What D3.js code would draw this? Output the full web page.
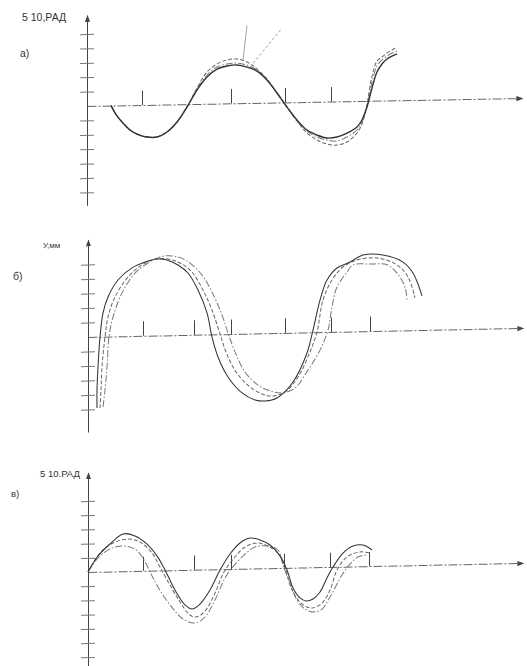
<!DOCTYPE html>
<html><head><meta charset="utf-8">
<script src="https://cdn.jsdelivr.net/npm/d3@7"></script>
<style>html,body{margin:0;padding:0;background:#fff;} svg{display:block;}</style>
</head><body><svg id="c" width="527" height="666"></svg>
<script>
// ---------- Panel а) (5·10 рад) ----------
const aX = [2.4,3.0,3.6,4.3,5.0,6,7,8,9,10,11,12,13,14,15,16,17,18,19,20,21,22,23,24,25,26,27,27.5,28,28.5,29,29.5,30,30.5,31];
const aSolid = [0,-0.73,-1.23,-1.72,-2.01,-2.23,-2.24,-1.91,-1.23,-0.20,0.97,1.86,2.40,2.60,2.66,2.50,2.21,1.58,0.66,-0.33,-1.24,-1.95,-2.31,-2.53,-2.47,-2.21,-1.80,-1.32,-0.43,0.89,1.99,2.54,2.88,3.08,3.22];
const aDashed = [0,-0.73,-1.23,-1.72,-2.01,-2.23,-2.24,-1.91,-1.23,-0.20,1.11,2.21,2.75,3.02,3.07,2.85,2.35,1.65,0.66,-0.33,-1.31,-2.16,-2.65,-2.95,-3.03,-2.83,-2.22,-1.60,-0.22,1.72,2.75,3.03,3.30,3.50,3.70];
const aDashDot = [0,-0.73,-1.23,-1.72,-2.01,-2.23,-2.24,-1.91,-1.23,-0.20,1.04,2.00,2.54,2.74,2.79,2.64,2.28,1.58,0.66,-0.33,-1.31,-2.02,-2.45,-2.67,-2.75,-2.48,-2.01,-1.46,-0.36,1.30,2.41,2.82,3.09,3.29,3.42];
const aTicksX = [5.5,14.4,19.8,24.4];
const aTicksY = [-6,-5,-4,-3,-2,-1,1,2,3,4,5];
const aLeaders = [[15.6,3.0,16.0,5.4],[16.6,2.75,19.5,5.15]];

// ---------- Panel б) (Y, мм) ----------
const bSolidX = [0.9,0.9,1.0,1.2,1.5,2.0,3.0,4.4,6.0,6.9,7.9,9.0,10.0,11.0,11.9,12.4,13.0,14.0,15.4,16.7,17.7,18.9,20.5,21.9,22.5,23.2,23.9,24.9,26.2,27.5,29.5,31.5,32.5,33.4];
const bSolidY = [-4.91,-3.67,-2.08,-0.02,1.63,2.73,3.89,4.70,5.15,5.28,5.20,4.84,4.27,3.08,1.49,-0.18,-1.57,-2.96,-4.08,-4.58,-4.67,-4.48,-3.40,-1.42,0.15,2.21,3.58,4.40,4.79,5.26,5.23,4.71,3.94,2.35];
const bDashedX = [1.2,1.3,1.4,1.7,2.0,2.7,4.0,5.4,6.7,8.0,9.2,10.4,11.5,12.4,13.2,13.8,14.8,16.2,17.4,18.4,19.7,21.0,22.2,22.9,23.5,24.4,25.5,26.9,28.9,30.9,32.0,32.7];
const bDashedY = [-4.92,-3.68,-2.09,-0.02,1.35,2.72,4.08,4.89,5.28,5.26,4.97,4.33,3.07,1.68,0.02,-1.23,-2.62,-3.68,-4.18,-4.34,-4.08,-3.06,-1.35,0.01,2.21,3.58,4.46,4.92,5.03,4.52,3.68,2.22];
const bDashDotX = [1.5,1.7,1.9,2.1,2.5,3.4,4.7,6.0,7.0,7.7,9.0,10.2,11.4,12.4,13.4,14.0,14.7,15.7,17.0,18.2,19.4,20.7,22.0,23.2,24.0,24.4,24.9,25.9,26.5,28.2,29.9,30.9,31.7,31.9];
const bDashDotY = [-4.85,-3.68,-2.10,-0.03,1.34,2.98,4.34,5.01,5.35,5.48,5.39,4.95,4.11,2.92,1.33,0.08,-1.24,-2.64,-3.56,-3.98,-4.14,-3.82,-2.60,-1.24,0.13,1.72,3.09,4.10,4.59,4.62,4.55,3.96,2.99,2.02];
const bTicksX = [5.5,10.6,14.3,19.7,24.3,28.2];
const bTicksY = [-5,-4,-3,-2,-1,1,2,3,4,5];

// ---------- Panel в) (5·10 рад) ----------
const cSolidX = [0,1.0,2.2,3.5,4.7,5.9,6.9,7.7,8.7,9.7,10.4,11.2,12.2,13.2,14.2,15.2,16.2,17.2,18.2,19.2,19.9,20.5,21.2,21.8,22.5,23.2,23.9,24.5,25.5,26.5,27.5,28.4];
const cSolidY = [0,1.11,1.94,2.63,2.47,1.88,1.03,0.03,-1.40,-2.46,-2.76,-2.42,-1.45,-0.06,1.06,1.82,2.15,2.00,1.63,0.85,-0.15,-1.43,-2.14,-2.36,-2.23,-1.75,-0.77,-0.01,0.96,1.44,1.49,1.13];
const cDashedX = [0,1.2,2.5,4.0,5.2,6.4,7.2,8.2,9.2,10.2,10.8,11.7,12.7,13.6,14.7,15.7,16.9,18.0,19.0,19.7,20.4,21.4,22.4,23.4,24.2,24.9,25.9,27.2,28.2];
const cDashedY = [0,1.32,2.00,2.26,2.03,1.25,0.24,-1.04,-2.25,-3.18,-3.33,-2.92,-1.67,-0.20,0.84,1.53,1.79,1.56,1.06,-0.01,-1.57,-2.57,-2.87,-2.53,-1.63,-0.23,0.68,1.01,0.92];
const cDashDotX = [0,1.0,2.2,3.4,4.7,5.6,6.2,7.0,8.2,9.5,10.7,11.7,12.7,13.7,14.4,15.4,16.7,18.0,19.0,19.5,20.2,20.9,21.7,22.5,23.4,24.2,25.4,26.2,27.0,27.8];
const cDashDotY = [0,0.97,1.59,1.78,1.55,0.77,-0.09,-1.16,-2.44,-3.45,-3.75,-3.34,-2.16,-0.62,0.07,0.83,1.51,1.56,1.27,0.20,-1.07,-2.28,-2.93,-3.15,-2.96,-2.12,-0.59,0.17,0.66,0.79];
const cTicksX = [5.5,10.6,14.3,19.6,24.2,28.1];
const cTicksY = [-6,-5,-4,-3,-2,-1,1,2,3,4,5];

// ---------- drawing ----------
const svg = d3.select("#c");
svg.append("rect").attr("width",527).attr("height",666).attr("fill","#fff");
const defs = svg.append("defs");
defs.append("marker").attr("id","arr").attr("viewBox","0 -4 8 8")
  .attr("refX",7).attr("refY",0).attr("markerWidth",7).attr("markerHeight",7)
  .attr("markerUnits","userSpaceOnUse").attr("orient","auto")
  .append("path").attr("d","M0,-3L8,0L0,3Z").attr("fill","#444");

const styles = {
  solid:   {stroke:"#333", dash:null},
  dashed:  {stroke:"#666", dash:"4,2"},
  dashdot: {stroke:"#777", dash:"7,2,1.5,2"}
};

function panel(cfg){
  const g = svg.append("g").attr("transform",`translate(${cfg.ox},${cfg.oy}) skewY(${cfg.skew})`);
  const x = d3.scaleLinear().domain([0,43.5]).range([0,435]);
  const y = d3.scaleLinear().domain([cfg.yMin,cfg.yMax]).range([-cfg.yMin*cfg.unit,-cfg.yMax*cfg.unit]);

  const xa = g.append("g").call(d3.axisBottom(x).tickValues(cfg.xTicks).tickSize(-cfg.unit).tickSizeOuter(0).tickFormat(""));
  xa.select(".domain").attr("stroke","#666").attr("stroke-width",1).attr("stroke-dasharray","9,2,2,2").attr("marker-end","url(#arr)");
  xa.selectAll(".tick line").attr("stroke","#444").attr("stroke-width",1);

  const ya = g.append("g").call(d3.axisLeft(y).tickValues(cfg.yTicks).tickSize(7).tickSizeOuter(0).tickFormat(""));
  ya.selectAll(".tick line").attr("x1",7).attr("stroke","#777").attr("stroke-width",1);
  ya.select(".domain").attr("stroke","#444").attr("stroke-width",1).attr("marker-end","url(#arr)");

  const line = d3.line().x(d=>x(d[0])).y(d=>y(d[1])).curve(d3.curveCatmullRom.alpha(0.5));
  cfg.series.forEach(s=>{
    const st = styles[s.style];
    g.append("path").datum(d3.zip(s.x,s.y)).attr("d",line)
      .attr("fill","none").attr("stroke",st.stroke)
      .attr("stroke-width", s.style==="solid" ? cfg.solidW : 1.0)
      .attr("stroke-dasharray",st.dash).attr("stroke-linejoin","round");
  });
  (cfg.leaders||[]).forEach((l,i)=>{
    g.append("line").attr("x1",x(l[0])).attr("y1",y(l[1])).attr("x2",x(l[2])).attr("y2",y(l[3]))
      .attr("stroke","#999").attr("stroke-width",0.9).attr("stroke-dasharray",i?"3,2":null);
  });
}

panel({ox:87, oy:106, skew:-1.05, unit:14.4, yMin:-6.9, yMax:6.3, xTicks:aTicksX, yTicks:aTicksY, solidW:1.4,
  series:[{x:aX,y:aDashed,style:"dashed"},{x:aX,y:aDashDot,style:"dashdot"},{x:aX,y:aSolid,style:"solid"}],
  leaders:aLeaders});
panel({ox:88, oy:337, skew:-1.2, unit:14.5, yMin:-6.55, yMax:6.7, xTicks:bTicksX, yTicks:bTicksY, solidW:1.05,
  series:[{x:bDashedX,y:bDashedY,style:"dashed"},{x:bDashDotX,y:bDashDotY,style:"dashdot"},{x:bSolidX,y:bSolidY,style:"solid"}]});
panel({ox:88, oy:572, skew:-1.2, unit:14.2, yMin:-6.8, yMax:7.0, xTicks:cTicksX, yTicks:cTicksY, solidW:1.05,
  series:[{x:cDashedX,y:cDashedY,style:"dashed"},{x:cDashDotX,y:cDashDotY,style:"dashdot"},{x:cSolidX,y:cSolidY,style:"solid"}]});

const labels = [
  {t:"5 10,РАД", x:22, y:21, s:10.5},
  {t:"а)", x:20, y:57, s:10.5},
  {t:"У,мм", x:43, y:248, s:8},
  {t:"б)", x:13, y:280, s:10.5},
  {t:"5 10.РАД", x:40, y:477, s:9.5},
  {t:"в)", x:11, y:497, s:9.5}
];
svg.selectAll("text.lbl").data(labels).join("text").attr("class","lbl")
  .attr("x",d=>d.x).attr("y",d=>d.y).attr("font-size",d=>d.s)
  .attr("font-family","'Liberation Sans', Arial, sans-serif").attr("fill","#333").text(d=>d.t);
</script></body></html>
